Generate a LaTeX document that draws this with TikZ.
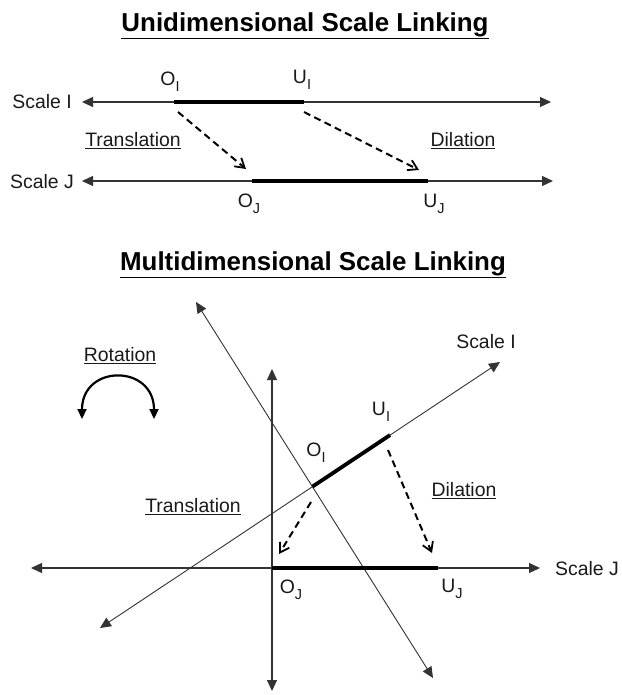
\documentclass[tikz,border=0pt]{standalone}
\usepackage{fontspec}
\setmainfont{Liberation Sans}
\usetikzlibrary{arrows.meta}
\newcommand{\sbI}[1]{#1\raisebox{-0.32em}{\fontsize{14.5}{15}\selectfont I}}
\newcommand{\sbJ}[1]{#1\raisebox{-0.32em}{\fontsize{14.5}{15}\selectfont J}}
\tikzset{
  lbl/.style={inner sep=0pt, font=\fontsize{19.5}{21}\selectfont, text=black!90},
  ttl/.style={inner sep=0pt, font=\fontsize{26}{28}\selectfont\bfseries},
  axis/.style={draw=black!80, line width=1.1bp, {Triangle[length=11bp,width=10bp]}-{Triangle[length=11bp,width=10bp]}},
  seg/.style={line width=3.8bp, line cap=butt},
  dasharrow/.style={line width=2bp, dash pattern=on 7bp off 4.5bp, -{Straight Barb[length=9bp,width=11bp,line width=1.8bp]}},
}
\begin{document}
\begin{tikzpicture}[x=1bp,y=-1bp]
\useasboundingbox (0,0) rectangle (622,695);
% ---------- Unidimensional ----------
\node[ttl] (t1) at (305,26) {\underline{Unidimensional Scale Linking}};
\coordinate (IL) at (82,102);
\coordinate (IR) at (551,102);
\coordinate (JL) at (82,181);
\coordinate (JR) at (553,181);
\draw[axis] (IL) -- (IR);
\draw[axis] (JL) -- (JR);
\node[lbl, anchor=east] (sI) at (72,102) {Scale I};
\node[lbl, anchor=east] (sJ) at (74,182) {Scale J};
\coordinate (OI) at (174,102);
\coordinate (UI) at (304,102);
\coordinate (OJ) at (252,181);
\coordinate (UJ) at (428,181);
\draw[seg] (OI) -- (UI);
\draw[seg] (OJ) -- (UJ);
\node[lbl] (lOI) at (170,82) {\sbI{O}};
\node[lbl] (lUI) at (302,80) {\sbI{U}};
\node[lbl] (lOJ) at (249,204) {\sbJ{O}};
\node[lbl] (lUJ) at (434,204) {\sbJ{U}};
\node[lbl] (tr1) at (133,141) {\underline{Translation}};
\node[lbl] (di1) at (463,141) {\underline{Dilation}};
\coordinate (a1s) at (178,112);
\coordinate (a1e) at (246,169);
\coordinate (a2s) at (304,112);
\coordinate (a2e) at (419,170);
\draw[dasharrow] (a1s) -- (a1e);
\draw[dasharrow] (a2s) -- (a2e);
% ---------- Multidimensional ----------
\node[ttl] (t2) at (313,265) {\underline{Multidimensional Scale Linking}};
\coordinate (HL) at (31,568);
\coordinate (HR) at (540,568);
\coordinate (VT) at (272,369);
\coordinate (VB) at (272,691);
\coordinate (SIa) at (100,628);
\coordinate (SIb) at (500,362);
\coordinate (STa) at (196,302);
\coordinate (STb) at (433,678);
\draw[axis] (HL) -- (HR);
\draw[axis] (VT) -- (VB);
\draw[axis, line width=0.9bp] (SIa) -- (SIb);
\draw[axis, line width=0.9bp] (STa) -- (STb);
\coordinate (mOI) at (312.5,486.6);
\coordinate (mUI) at (390,435.1);
\coordinate (mOJ) at (272,568);
\coordinate (mUJ) at (438,568);
\draw[seg] (mOI) -- (mUI);
\draw[seg] (mOJ) -- (mUJ);
\node[lbl] (mlOI) at (316,453) {\sbI{O}};
\node[lbl] (mlUI) at (381,412) {\sbI{U}};
\node[lbl] (mlOJ) at (291,590) {\sbJ{O}};
\node[lbl] (mlUJ) at (452,589) {\sbJ{U}};
\node[lbl] (msI) at (486,342) {Scale I};
\node[lbl, anchor=west] (msJ) at (555,569) {Scale J};
\node[lbl] (mtr) at (193,507) {\underline{Translation}};
\node[lbl] (mdi) at (464,491) {\underline{Dilation}};
\node[lbl] (rot) at (120,356) {\underline{Rotation}};
\coordinate (b1s) at (311,502);
\coordinate (b1e) at (279,554);
\coordinate (b2s) at (388,450);
\coordinate (b2e) at (432,553);
\draw[dasharrow] (b1s) -- (b1e);
\draw[dasharrow] (b2s) -- (b2e);
\coordinate (r1) at (82,419);
\coordinate (r2) at (154,419);
\draw[line width=2.2bp, {Triangle[length=10bp,width=9bp]}-{Triangle[length=10bp,width=9bp]}] (r1) .. controls (82,364) and (154,364) .. (r2);
\end{tikzpicture}
\end{document}
